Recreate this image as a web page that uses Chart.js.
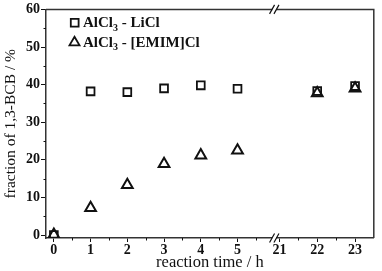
<!DOCTYPE html>
<html>
<head>
<meta charset="utf-8">
<script src="https://cdn.jsdelivr.net/npm/chart.js@4.4.1/dist/chart.umd.min.js"></script>
<style>
html, body { margin: 0; padding: 0; background: #fff; }
#wrap { width: 382px; height: 271px; }
</style>
</head>
<body>
<div id="wrap"><canvas id="chart"></canvas></div>
<script>
// reaction time (h) and fraction of 1,3-BCB (%)
const liclHours = [0, 1, 2, 3, 4, 5, 22, 23];
const liclValues = [0, 38.2, 38.0, 39.0, 39.8, 38.9, 38.3, 39.6];
const emimHours = [0, 1, 2, 3, 4, 5, 22, 23];
const emimValues = [0.1, 7.2, 13.3, 18.9, 21.2, 22.5, 37.7, 39.0];

// axis ticks
const xLabelHours = [0, 1, 2, 3, 4, 5, 21, 22, 23];
const xMinorHours = [0.5, 1.5, 2.5, 3.5, 4.5, 5.5, 21.5, 22.5];
const yLabelValues = [0, 10, 20, 30, 40, 50, 60];
const yMinorValues = [5, 15, 25, 35, 45, 55];

const seriesNames = ['LiCl', '[EMIM]Cl'];

// broken x axis: 0-5 h, then 21-23 h
const breakPos = 6.0;
function axisPos(h) {
    return h <= 6 ? h : 6.14 + (h - 21) * 1.03;
}

const serif = "'Liberation Serif', 'Times New Roman', serif";
const ink = '#111';
const frame = '#333';

// Frame, minor ticks, axis break and legend
const extrasPlugin = {
    id: 'extras',
    afterDraw(chart) {
        const ctx = chart.ctx;
        const a = chart.chartArea;
        const xs = chart.scales.x;
        const ys = chart.scales.y;
        ctx.save();

        // top + right frame
        ctx.strokeStyle = frame;
        ctx.lineWidth = 1.5;
        ctx.beginPath();
        ctx.moveTo(a.left, a.top);
        ctx.lineTo(a.right, a.top);
        ctx.lineTo(a.right, a.bottom);
        ctx.stroke();

        // minor ticks
        ctx.lineWidth = 1;
        ctx.strokeStyle = ink;
        ctx.beginPath();
        xMinorHours.forEach(h => {
            const px = Math.round(xs.getPixelForValue(axisPos(h))) + 0.5;
            ctx.moveTo(px, a.bottom);
            ctx.lineTo(px, a.bottom + 2.5);
        });
        yMinorValues.forEach(v => {
            const py = Math.round(ys.getPixelForValue(v)) + 0.5;
            ctx.moveTo(a.left, py);
            ctx.lineTo(a.left - 2.5, py);
        });
        ctx.stroke();

        // break marks
        const bx = xs.getPixelForValue(breakPos);
        [a.top, a.bottom].forEach(y => {
            ctx.fillStyle = '#fff';
            ctx.fillRect(bx - 2, y - 1.5, 4, 3);
            ctx.beginPath();
            [-2.2, 2.2].forEach(dx => {
                ctx.moveTo(bx + dx - 2.5, y + 4.5);
                ctx.lineTo(bx + dx + 2.5, y - 4.5);
            });
            ctx.lineWidth = 1.2;
            ctx.strokeStyle = ink;
            ctx.stroke();
        });

        // legend
        const rows = [
            { style: 'rect', y: 22.8, base: 27.2 },
            { style: 'triangle', y: 42.5, base: 46.5 }
        ];
        rows.forEach((r, i) => {
            ctx.strokeStyle = ink;
            ctx.lineWidth = 1.8;
            ctx.beginPath();
            if (r.style === 'rect') {
                ctx.rect(70.8, r.y - 3.9, 7.8, 7.8);
            } else {
                const rad = 5.8;
                ctx.moveTo(74.5, r.y - rad);
                ctx.lineTo(74.5 + rad * 0.866, r.y + rad / 2);
                ctx.lineTo(74.5 - rad * 0.866, r.y + rad / 2);
                ctx.closePath();
            }
            ctx.stroke();

            ctx.fillStyle = ink;
            ctx.textBaseline = 'alphabetic';
            ctx.textAlign = 'left';
            let x = 83;
            ctx.font = 'bold 15px ' + serif;
            ctx.fillText('AlCl', x, r.base);
            x += ctx.measureText('AlCl').width;
            ctx.font = 'bold 10px ' + serif;
            ctx.fillText('3', x, r.base + 3.5);
            x += ctx.measureText('3').width;
            ctx.font = 'bold 15px ' + serif;
            ctx.fillText(' - ' + seriesNames[i], x, r.base);
        });

        ctx.restore();
    }
};

const ctx = document.getElementById('chart').getContext('2d');
new Chart(ctx, {
    type: 'scatter',
    data: {
        datasets: [
            {
                label: 'AlCl3 - LiCl',
                data: liclHours.map((h, i) => ({ x: axisPos(h), y: liclValues[i] })),
                pointStyle: 'rect',
                pointRadius: 5.5,
                pointHoverRadius: 5.5,
                pointBorderWidth: 1.8,
                borderColor: ink,
                backgroundColor: 'rgba(0,0,0,0)',
                showLine: false
            },
            {
                label: 'AlCl3 - [EMIM]Cl',
                data: emimHours.map((h, i) => ({ x: axisPos(h), y: emimValues[i] })),
                pointStyle: 'triangle',
                pointRadius: 6.2,
                pointHoverRadius: 6.2,
                pointBorderWidth: 2,
                borderColor: ink,
                backgroundColor: 'rgba(0,0,0,0)',
                showLine: false
            }
        ]
    },
    options: {
        responsive: true,
        maintainAspectRatio: false,
        animation: false,
        layout: { padding: { top: 6, right: 3, left: 0, bottom: 0 } },
        plugins: {
            legend: { display: false },
            tooltip: { enabled: false }
        },
        scales: {
            x: {
                type: 'linear',
                min: -0.214,
                max: 8.71,
                afterBuildTicks(scale) {
                    scale.ticks = xLabelHours.map(h => ({ value: axisPos(h) }));
                },
                afterFit(scale) { scale.height = 33; },
                ticks: {
                    autoSkip: false,
                    maxRotation: 0,
                    padding: 0,
                    color: ink,
                    font: { family: serif, size: 14, weight: 'bold' },
                    callback: (v, i) => String(xLabelHours[i])
                },
                grid: {
                    drawOnChartArea: false,
                    drawTicks: true,
                    tickLength: 4,
                    tickColor: ink,
                    tickWidth: 1
                },
                border: { display: true, color: frame, width: 1.5 },
                title: {
                    display: true,
                    text: 'reaction time / h',
                    color: ink,
                    padding: 0,
                    font: { family: serif, size: 16.5, lineHeight: 1.0 }
                }
            },
            y: {
                type: 'linear',
                min: -0.79,
                max: 60,
                afterBuildTicks(scale) {
                    scale.ticks = yLabelValues.map(v => ({ value: v }));
                },
                afterFit(scale) { scale.width = 46; },
                ticks: {
                    padding: 1,
                    color: ink,
                    font: { family: serif, size: 14, weight: 'bold' },
                    callback: v => String(v)
                },
                grid: {
                    drawOnChartArea: false,
                    drawTicks: true,
                    tickLength: 5,
                    tickColor: ink,
                    tickWidth: 1
                },
                border: { display: true, color: frame, width: 1.5 },
                title: {
                    display: true,
                    text: 'fraction of 1,3-BCB / %',
                    color: ink,
                    padding: { top: 2, bottom: 0 },
                    font: { family: serif, size: 15.5, lineHeight: 1.15 }
                }
            }
        }
    },
    plugins: [extrasPlugin]
});
</script>
</body>
</html>
